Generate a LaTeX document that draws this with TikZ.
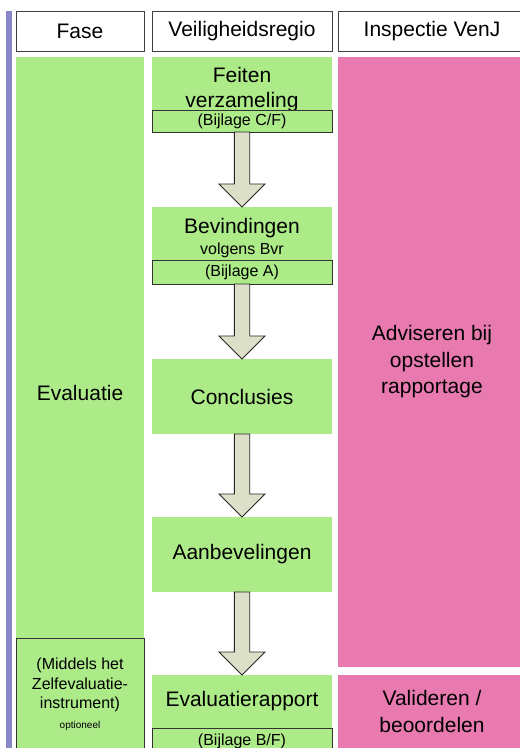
\documentclass[tikz,border=0pt]{standalone}
\usepackage{fontspec}
\setmainfont{Liberation Sans}
\usetikzlibrary{calc}
\definecolor{lgreen}{RGB}{173,235,137}
\definecolor{lpink}{RGB}{232,122,176}
\definecolor{lpurple}{RGB}{136,136,200}
\definecolor{afill}{RGB}{221,224,200}
\tikzset{
 every node/.style={inner sep=0pt, outer sep=0pt},
 box/.style={rectangle, anchor=north west, inner sep=0pt},
 hdr/.style={box, draw=black!75, fill=white, line width=0.9pt, font=\fontsize{21}{24}\selectfont},
 gbox/.style={box, fill=lgreen, align=center, font=\fontsize{21}{25}\selectfont},
 pbox/.style={box, fill=lpink, align=center, font=\fontsize{21}{26.5}\selectfont},
 bij/.style={box, fill=lgreen, draw=black!80, line width=0.9pt, font=\fontsize{16}{18}\selectfont},
 big/.style={align=center, font=\fontsize{21}{25}\selectfont},
 small/.style={align=center, font=\fontsize{16}{19.5}\selectfont},
 tiny/.style={align=center, font=\fontsize{10}{12}\selectfont},
 blk/.style={draw=black!85, fill=afill, line width=0.9pt, line join=miter},
}
\newcommand\blkarrow[2]{%
 \draw[blk] ($(#1.south)+(-7.7,0)$) -- ($(#1.south)+(7.7,0)$)
  -- ($(#2.north)+(7.7,-23)$) -- ($(#2.north)+(23,-23)$) -- (#2.north)
  -- ($(#2.north)+(-23,-23)$) -- ($(#2.north)+(-7.7,-23)$) -- cycle;}
\begin{document}
\begin{tikzpicture}[x=1pt,y=-1pt]
\clip (0,0) rectangle (520,748);
\fill[white] (0,0) rectangle (520,748);
% purple bar
\fill[lpurple] (6,11) rectangle (12,748);
% headers
\node[hdr, minimum width=128, minimum height=40] (hF) at (16,11) {Fase};
\node[hdr, minimum width=180, minimum height=40] (hV) at (152,11) {Veiligheidsregio};
\node[hdr, minimum width=188, minimum height=40] (hI) at (338,11) {Inspectie VenJ};
% Fase column
\node[gbox, minimum width=128, minimum height=581] (fase) at (16,57) {};
\node[big] (evalT) at (80,393) {Evaluatie};
\node[box, draw=black!80, fill=lgreen, line width=0.9pt, minimum width=128, minimum height=115] (mid) at (16,638) {};
\node[small] (midT) at (80,685) {(Middels het\\Zelfevaluatie-\\instrument)};
\node[tiny] (opt) at (80,726) {optioneel};
% Veiligheidsregio column
\node[gbox, minimum width=180, minimum height=75] (feit) at (152,57) {};
\node[big] (feitT) at (242,90) {Feiten\\verzameling};
\node[bij, minimum width=180, minimum height=22] (bijCF) at (152,110) {(Bijlage C/F)};
\node[gbox, minimum width=180, minimum height=53] (bev) at (152,207) {};
\node[big] (bevT) at (242,228) {Bevindingen};
\node[small] (bevS) at (242,250) {volgens Bvr};
\node[bij, minimum width=180, minimum height=24] (bijA) at (152,260) {(Bijlage A)};
\node[gbox, minimum width=180, minimum height=75] (conc) at (152,359) {Conclusies};
\node[gbox, minimum width=180, minimum height=75] (aanb) at (152,517) {Aanbevelingen};
\node[gbox, minimum width=180, minimum height=53] (evr) at (152,675) {Evaluatierapport};
\node[bij, minimum width=180, minimum height=26] (bijBF) at (152,728) {(Bijlage B/F)};
% Inspectie column
\node[pbox, minimum width=188, minimum height=610] (adv) at (338,57) {Adviseren bij\\opstellen\\rapportage};
\node[pbox, minimum width=188, minimum height=73] (val) at (338,675) {Valideren /\\beoordelen};
% arrows
\blkarrow{bijCF}{bev}
\blkarrow{bijA}{conc}
\blkarrow{conc}{aanb}
\blkarrow{aanb}{evr}
\end{tikzpicture}
\end{document}
